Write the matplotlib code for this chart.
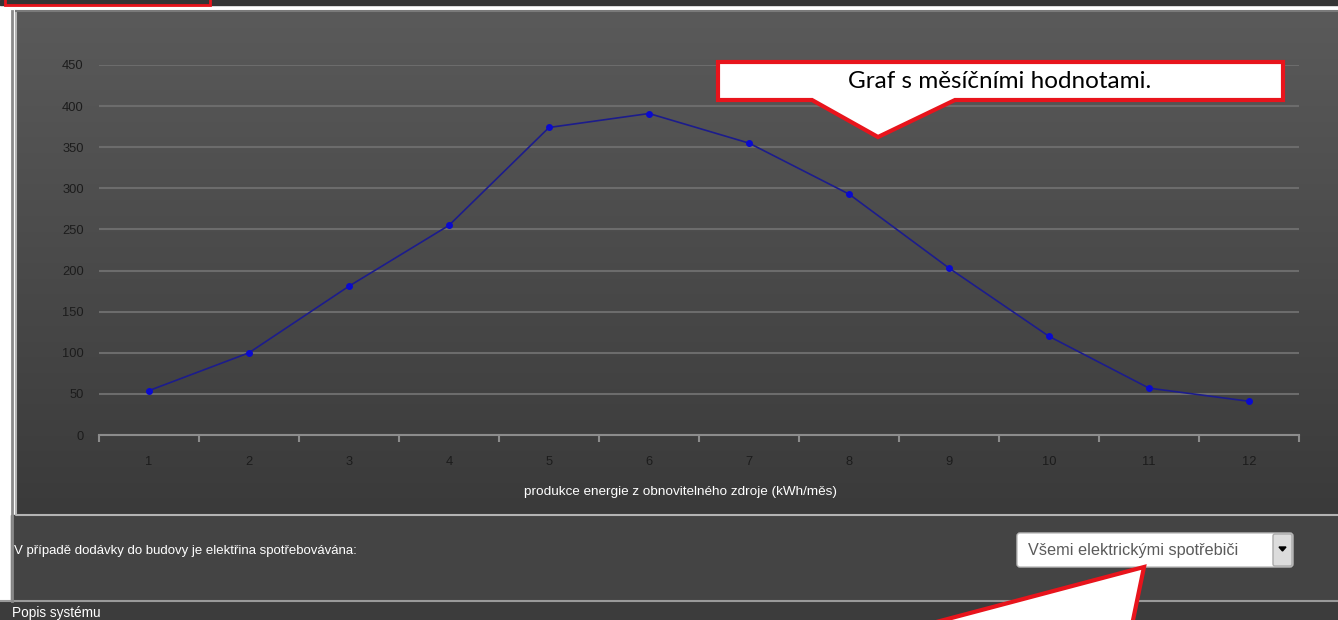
import numpy as np
import matplotlib.pyplot as plt
from matplotlib.patches import Rectangle, Polygon, FancyBboxPatch
from matplotlib.colors import LinearSegmentedColormap

# data
months = [1, 2, 3, 4, 5, 6, 7, 8, 9, 10, 11, 12]
production = [54, 100, 181, 255, 374, 391, 355, 293, 203, 120, 57, 41]
y_ticks = [0, 50, 100, 150, 200, 250, 300, 350, 400, 450]

x_title = "produkce energie z obnovitelného zdroje (kWh/měs)"
callout_text = "Graf s měsíčními hodnotami."
question = "V případě dodávky do budovy je elektřina spotřebovávána:"
choice = "Všemi elektrickými spotřebiči"
footer = "Popis systému"

W, H = 1338, 620
fig = plt.figure(figsize=(W / 100, H / 100), dpi=100)
fig.patch.set_facecolor("white")

# background axes in pixel coordinates
bg = fig.add_axes([0, 0, 1, 1])
bg.set_xlim(0, W)
bg.set_ylim(H, 0)
bg.axis("off")

# top strip
bg.add_patch(Rectangle((0, 0), W, 5, color="#353535", zorder=1))
bg.add_patch(Rectangle((5, -5), 205, 10, fill=False, ec="#e8141c", lw=2, zorder=2))

# lower dark area
bg.add_patch(Rectangle((11, 515), W - 11, 86, color="#444444", zorder=1))
bg.add_patch(Rectangle((0, 601), W, 19, color="#3c3c3c", zorder=1))
bg.plot([0, W], [601, 601], color="#9a9a9a", lw=1.5, zorder=2)

# panel with gradient
grad = np.linspace(0, 1, 256).reshape(-1, 1)
cmap = LinearSegmentedColormap.from_list("g", ["#5a5a5a", "#3a3a3a"])
bg.imshow(grad, extent=(16, W, 515, 11), cmap=cmap, aspect="auto", zorder=1)
bg.plot([12, 12], [11, 601], color="#8a8a8a", lw=2, zorder=2)
bg.plot([16, 16, W], [11, 515, 515], color="#b4b4b4", lw=1.5, zorder=2)
bg.plot([16, W], [11, 11], color="#7a7a7a", lw=1.5, zorder=2)

# axis title
bg.text(681, 492, x_title, color="white", fontsize=9.7, family="Liberation Sans",
        ha="center", va="center", zorder=3)

# question and dropdown
bg.text(14, 551, question, color="white", fontsize=9.5, family="Liberation Sans",
        ha="left", va="center", zorder=3)
bg.add_patch(FancyBboxPatch((1017, 533), 276, 34, boxstyle="round,pad=0,rounding_size=3",
                            fc="white", ec="#bbbbbb", lw=1, zorder=3))
bg.add_patch(FancyBboxPatch((1273, 534), 19, 32, boxstyle="round,pad=0,rounding_size=2",
                            fc="#dcdcdc", ec="#aaaaaa", lw=1, zorder=4))
bg.add_patch(Polygon([(1279, 547), (1286, 547), (1282.5, 551)], color="black", zorder=5))
bg.text(1028, 550, choice, color="#5a5a5a", fontsize=11.7, family="Liberation Sans",
        ha="left", va="center", zorder=5)

# red callout at the bottom
bg.add_patch(Polygon([(1144, 567), (925, 625), (1132, 625)], fc="white", ec="#e8141c",
                     lw=3, joinstyle="miter", zorder=6))

bg.text(12, 613, footer, color="white", fontsize=9.8, family="Liberation Sans",
        ha="left", va="center", zorder=3)

# chart axes
ax = fig.add_axes([99 / W, (H - 435) / H, 1200 / W, 370 / H])
ax.set_facecolor("none")
ax.set_xlim(0.5, 12.5)
ax.set_ylim(0, 450)
for s in ["top", "right", "left"]:
    ax.spines[s].set_visible(False)
ax.spines["bottom"].set_color("#8c8c8c")
ax.spines["bottom"].set_linewidth(1.5)
ax.set_yticks(y_ticks)
ax.set_xticks(months)
ax.set_xticks(np.arange(0.5, 13, 1), minor=True)
ax.tick_params(axis="y", length=0, pad=11, labelsize=9.3, labelcolor="#1c1c1c")
ax.tick_params(axis="x", which="major", length=0, pad=15, labelsize=9.3, labelcolor="#1c1c1c")
ax.tick_params(axis="x", which="minor", length=5, width=1.5, color="#8c8c8c")
for lab in ax.get_xticklabels() + ax.get_yticklabels():
    lab.set_family("Liberation Sans")
ax.grid(axis="y", color="#6c6c6c", lw=1.5)
ax.set_axisbelow(True)

ax.plot(months, production, color="#1c1c8c", lw=1.2, marker="o", markersize=4,
        markerfacecolor="#0a0ad0", markeredgecolor="#0a0ad0", clip_on=False, zorder=3)

# callout over the chart
top = fig.add_axes([0, 0, 1, 1])
top.set_xlim(0, W)
top.set_ylim(H, 0)
top.axis("off")
top.patch.set_alpha(0)
top.add_patch(Polygon([(718, 62), (1283, 62), (1283, 100), (955, 100), (878, 137),
                       (812, 100), (718, 100)], fc="white", ec="#e8141c", lw=3,
                      joinstyle="miter", zorder=5))
top.text(1000, 81, callout_text, color="black", fontsize=17.5, family="Lato",
         ha="center", va="center", zorder=6)

fig.savefig("out.png", dpi=100)
